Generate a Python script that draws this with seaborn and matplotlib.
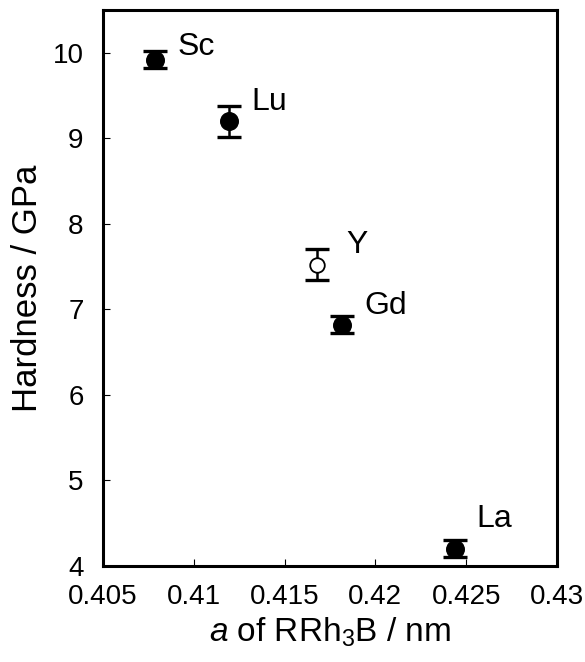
import matplotlib
matplotlib.use("Agg")
from matplotlib import pyplot as plt
import seaborn as sns
import pandas as pd

# values
elements = ["Sc", "Lu", "Y", "Gd", "La"]
lattice_a = [0.40786, 0.41192, 0.41681, 0.41819, 0.42440]
hardness = [9.92, 9.20, 7.52, 6.82, 4.20]
hardness_err = [0.10, 0.18, 0.18, 0.10, 0.10]
filled = [True, True, False, True, True]
label_offsets = [(23, 13), (23, 19), (29, 20), (22, 19), (21, 30)]

x_ticks = [0.405, 0.41, 0.415, 0.42, 0.425, 0.43]
x_ticklabels = ["0.405", "0.41", "0.415", "0.42", "0.425", "0.43"]
y_ticks = [4, 5, 6, 7, 8, 9, 10]

df = pd.DataFrame({
    "element": elements,
    "a": lattice_a,
    "hardness": hardness,
    "err": hardness_err,
    "filled": filled,
})

sns.set_style("white")
font = ["Liberation Sans Narrow", "Liberation Sans", "DejaVu Sans"]
plt.rcParams["font.family"] = font
plt.rcParams["mathtext.fontset"] = "custom"
plt.rcParams["mathtext.rm"] = "Liberation Sans"
plt.rcParams["mathtext.it"] = "Liberation Sans:italic"
for key in ["text.color", "axes.labelcolor", "xtick.color", "ytick.color"]:
    plt.rcParams[key] = "black"

fig = plt.figure(figsize=(5.85, 6.62), dpi=100)
ax = fig.add_axes([0.176, 0.145, 0.776, 0.840])

ax.errorbar(
    df["a"], df["hardness"], yerr=df["err"],
    fmt="none", ecolor="black", elinewidth=1.8, capsize=8.5, capthick=2.4,
    zorder=2,
)
sns.scatterplot(
    data=df[df["filled"]], x="a", y="hardness", ax=ax,
    color="black", edgecolor="black", s=160, zorder=3, legend=False,
)
sns.scatterplot(
    data=df[~df["filled"]], x="a", y="hardness", ax=ax,
    facecolor="white", edgecolor="black", linewidth=1.3, s=110, zorder=3,
    legend=False,
)

for name, x, y, off in zip(elements, lattice_a, hardness, label_offsets):
    ax.annotate(name, (x, y), xytext=off, textcoords="offset pixels",
                fontsize=23, ha="left", va="center")

ax.set_xlim(0.405, 0.43)
ax.set_ylim(4, 10.5)
ax.set_xticks(x_ticks)
ax.set_xticklabels(x_ticklabels)
ax.set_yticks(y_ticks)
ax.tick_params(direction="in", length=5, width=0.8, labelsize=20,
               bottom=True, left=True, top=False, right=False)
ax.tick_params(axis="x", pad=13)
ax.tick_params(axis="y", pad=14)

for spine in ax.spines.values():
    spine.set_linewidth(2.2)
    spine.set_color("black")

ax.set_xlabel(r"$\mathit{a}$ of RRh$_3$B / nm", fontsize=24, labelpad=4)
ax.set_ylabel("Hardness / GPa", fontsize=25, labelpad=6)

fig.savefig("out.png", dpi=100)
